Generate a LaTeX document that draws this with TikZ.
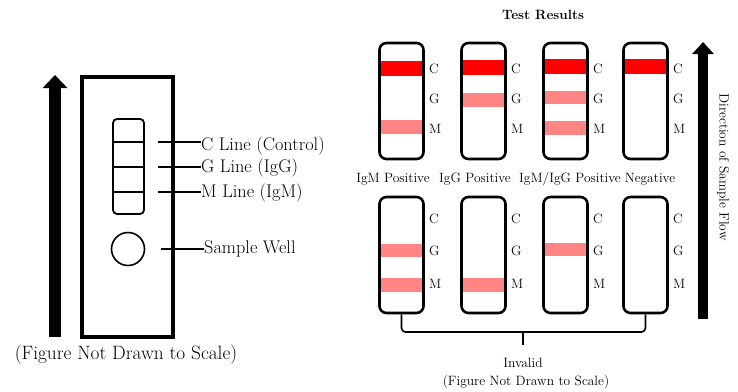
\documentclass[tikz,border=0pt]{standalone}
\usetikzlibrary{arrows.meta}
\begin{document}
\begin{tikzpicture}[x=1pt,y=-1pt]
			\tikzstyle{strip}=[draw=black,line width=2.6pt,rounded corners=7pt,minimum width=44pt,minimum height=116pt,inner sep=0pt]
			\tikzstyle{big}=[font=\fontsize{18.3}{20}\selectfont,inner sep=0pt]
			\tikzstyle{small}=[font=\fontsize{13.5}{15}\selectfont,inner sep=0pt]
			\tikzstyle{letter}=[small,anchor=west]
			\tikzstyle{flow}=[line width=12pt,-{Triangle[width=24pt,length=13pt]}]
			\colorlet{cband}{red}
			\colorlet{band}{red!48}
			\useasboundingbox (0,0) rectangle (738,391);
			
			% cassette
			\begin{scope}
			\draw[line width=3.6pt] (82,77) rectangle (173,337);
			\draw[line width=1.8pt,rounded corners=4pt] (113,119) rectangle (144,214);
			\draw[line width=1.8pt] (113,142) -- (144,142) (113,167) -- (144,167) (113,192) -- (144,192);
			\node[circle,draw=black,line width=1.6pt,minimum size=33pt,inner sep=0pt] (well) at (128,249) {};
			\coordinate (c-tick) at (158,142);
			\coordinate (g-tick) at (158,167);
			\coordinate (m-tick) at (158,192);
			\coordinate (s-tick) at (161,249);
			\node[big,anchor=west] (c-lbl) at (201,146) {C Line (Control)};
			\node[big,anchor=west] (g-lbl) at (201,168) {G Line (IgG)};
			\node[big,anchor=west] (m-lbl) at (201,193) {M Line (IgM)};
			\node[big,anchor=west] (s-lbl) at (204,249) {Sample Well};
			\node[big,font=\fontsize{19.3}{21}\selectfont] (scale-l) at (126,355) {(Figure Not Drawn to Scale)};
			\coordinate (flow-l-a) at (55,337);
			\coordinate (flow-l-b) at (55,75);
			\end{scope}
			
			\path[draw,line width=1.8pt]
			(c-tick) edge (c-tick -| c-lbl.west)
			(g-tick) edge (g-tick -| g-lbl.west)
			(m-tick) edge (m-tick -| m-lbl.west)
			(s-tick) edge (s-tick -| s-lbl.west)
			;
			\draw[flow] (flow-l-a) -- (flow-l-b);
			
			% bands
			\fill[cband] (380,61) rectangle (423,76);
			\fill[band]  (380,120) rectangle (423,134);
			\fill[cband] (462,60) rectangle (505,75);
			\fill[band]  (462,93) rectangle (505,107);
			\fill[cband] (544,59) rectangle (587,74);
			\fill[band]  (544,91) rectangle (587,104);
			\fill[band]  (544,121) rectangle (587,135);
			\fill[cband] (624,59) rectangle (667,74);
			\fill[band]  (380,244) rectangle (423,257);
			\fill[band]  (380,278) rectangle (423,292);
			\fill[band]  (462,278) rectangle (505,292);
			\fill[band]  (544,243) rectangle (587,256);
			
			% results
			\begin{scope}
			\node[small,font=\fontsize{13.5}{15}\selectfont\bfseries] (title) at (543,15) {Test Results};
			\node[strip] (igm)   at (401.5,101) {};
			\node[strip] (igg)   at (483.5,101) {};
			\node[strip] (both)  at (565.5,101) {};
			\node[strip] (neg)   at (645.5,101) {};
			\node[strip] (inv-1) at (401.5,255) {};
			\node[strip] (inv-2) at (483.5,255) {};
			\node[strip] (inv-3) at (565.5,255) {};
			\node[strip] (inv-4) at (645.5,255) {};
			\foreach \s in {igm,igg,both,neg}{
				\node[letter] at ([xshift=4pt,yshift=32pt]\s.east) {C};
				\node[letter] at ([xshift=4pt,yshift=2pt]\s.east) {G};
				\node[letter] at ([xshift=4pt,yshift=-28pt]\s.east) {M};
			}
			\foreach \s in {inv-1,inv-2,inv-3,inv-4}{
				\node[letter] at ([xshift=4pt,yshift=36pt]\s.east) {C};
				\node[letter] at ([xshift=4pt,yshift=4pt]\s.east) {G};
				\node[letter] at ([xshift=4pt,yshift=-29pt]\s.east) {M};
			}
			\node[small] (igm-lbl)  at (393,179) {IgM Positive};
			\node[small] (igg-lbl)  at (475,179) {IgG Positive};
			\node[small] (both-lbl) at (570,179) {IgM/IgG Positive};
			\node[small] (neg-lbl)  at (650,179) {Negative};
			\coordinate (brace-mid) at (523,332);
			\coordinate (brace-tip) at (523,345);
			\node[small] (invalid) at (523,363) {Invalid};
			\node[small] (scale-r) at (526,382) {(Figure Not Drawn to Scale)};
			\coordinate (flow-r-a) at (703,319);
			\coordinate (flow-r-b) at (703,42);
			\node[small,rotate=-90] (flow-lbl) at (723,167) {Direction of Sample Flow};
			\end{scope}
			
			\draw[line width=1.6pt,rounded corners=4pt] (inv-1.south) |- (brace-mid) -| (inv-4.south);
			\draw[line width=1.6pt] (brace-mid) -- (brace-tip);
			\draw[flow,line width=10pt,-{Triangle[width=21pt,length=12pt]}] (flow-r-a) -- (flow-r-b);
		\end{tikzpicture}
\end{document}
